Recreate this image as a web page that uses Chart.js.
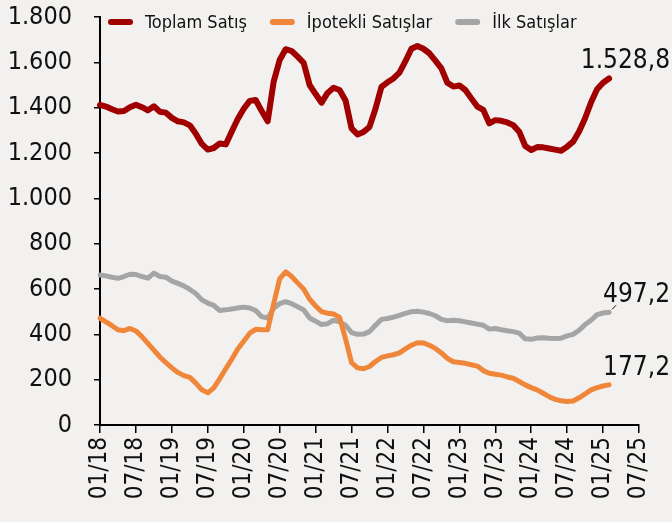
<!DOCTYPE html>
<html>
<head>
<meta charset="utf-8">
<script src="https://cdn.jsdelivr.net/npm/chart.js@4.4.1/dist/chart.umd.min.js"></script>
<style>
  html, body { margin: 0; padding: 0; background: #f2f1ef; }
  #wrap { width: 672px; height: 522px; }
</style>
</head>
<body>
<div id="wrap"><canvas id="c" width="672" height="522"></canvas></div>
<script>
// Month categories (axis runs 01/18 .. 07/25)
const categories = [
  '01/18','02/18','03/18','04/18','05/18','06/18','07/18','08/18','09/18','10/18','11/18','12/18',
  '01/19','02/19','03/19','04/19','05/19','06/19','07/19','08/19','09/19','10/19','11/19','12/19',
  '01/20','02/20','03/20','04/20','05/20','06/20','07/20','08/20','09/20','10/20','11/20','12/20',
  '01/21','02/21','03/21','04/21','05/21','06/21','07/21','08/21','09/21','10/21','11/21','12/21',
  '01/22','02/22','03/22','04/22','05/22','06/22','07/22','08/22','09/22','10/22','11/22','12/22',
  '01/23','02/23','03/23','04/23','05/23','06/23','07/23','08/23','09/23','10/23','11/23','12/23',
  '01/24','02/24','03/24','04/24','05/24','06/24','07/24','08/24','09/24','10/24','11/24','12/24',
  '01/25','02/25','03/25','04/25','05/25','06/25','07/25'
];

const seriesNames = ['Toplam Satış', 'İpotekli Satışlar', 'İlk Satışlar'];

const toplamSatis = [
  1412,1405,1393,1383,1385,1402,1413,1402,1388,1406,1382,1378,
  1355,1340,1335,1322,1285,1240,1215,1222,1242,1238,1295,1350,
  1395,1430,1434,1385,1340,1515,1610,1658,1650,1625,1598,1500,
  1460,1422,1465,1488,1478,1432,1309,1282,1293,1315,1395,1492,
  1512,1529,1555,1605,1660,1672,1660,1640,1607,1573,1510,1493,
  1498,1478,1441,1405,1390,1331,1345,1342,1335,1323,1294,1231,
  1213,1226,1225,1220,1215,1210,1228,1250,1295,1353,1424,1481,
  1510,1528.8
];

const ipotekliSatislar = [
  471,455,438,420,416,426,415,390,360,330,300,275,
  252,232,218,210,185,155,142,164,205,248,290,335,
  370,405,422,420,420,535,645,676,655,627,600,555,
  525,500,493,490,475,380,275,252,248,258,280,298,
  305,310,318,336,352,363,362,352,338,318,294,279,
  276,272,266,260,240,228,224,220,212,206,192,177,
  165,155,140,125,113,107,104,106,120,137,155,165,
  172,177.2
];

const ilkSatislar = [
  662,658,652,647,655,665,664,655,648,670,655,652,
  635,625,614,598,580,552,538,528,505,508,512,516,
  520,516,505,478,472,515,535,544,535,522,508,472,
  458,443,447,462,455,440,408,400,401,412,440,466,
  470,476,484,492,500,502,498,492,482,466,460,462,
  460,455,450,445,440,423,426,420,416,412,405,380,
  378,384,385,383,382,383,393,400,418,443,462,487,
  494,497.2
];

const yMin = 0, yMax = 1800, yStep = 200;
const seriesColors = ['#a00000', '#f0863a', '#a5a5a5'];
const seriesWidths = [6, 5, 5];

const FONT = '"DejaVu Sans Condensed", "DejaVu Sans", sans-serif';

function formatTR(v, decimals) {
  const neg = v < 0;
  v = Math.abs(v);
  let s = decimals ? v.toFixed(decimals) : String(Math.round(v));
  let [ip, dp] = s.split('.');
  ip = ip.replace(/\B(?=(\d{3})+(?!\d))/g, '.');
  return (neg ? '-' : '') + ip + (dp ? ',' + dp : '');
}

// Legend drawn inside the chart area (top-left)
const legendPlugin = {
  id: 'insideLegend',
  afterDraw(chart) {
    const ctx = chart.ctx;
    const area = chart.chartArea;
    ctx.save();
    ctx.font = '18px ' + FONT;
    ctx.textBaseline = 'alphabetic';
    ctx.textAlign = 'left';
    let x = area.left + 11;
    const yLine = area.top + 5;
    chart.data.datasets.forEach((ds) => {
      ctx.strokeStyle = ds.borderColor;
      ctx.lineWidth = 6;
      ctx.lineCap = 'round';
      ctx.beginPath();
      ctx.moveTo(x, yLine);
      ctx.lineTo(x + 19, yLine);
      ctx.stroke();
      ctx.fillStyle = '#111';
      ctx.fillText(ds.label, x + 34, yLine + 6);
      x += 34 + ctx.measureText(ds.label).width + 26;
    });
    ctx.restore();
  }
};

// Value labels at the last point of each series
const endLabelPlugin = {
  id: 'endLabels',
  afterDatasetsDraw(chart) {
    const ctx = chart.ctx;
    ctx.save();
    ctx.font = '26px ' + FONT;
    ctx.fillStyle = '#111';
    ctx.textAlign = 'right';
    ctx.textBaseline = 'alphabetic';
    chart.data.datasets.forEach((ds, i) => {
      const meta = chart.getDatasetMeta(i);
      const last = ds.data.length - 1;
      const pt = meta.data[last];
      if (!pt) return;
      ctx.fillText(formatTR(ds.data[last], 1), pt.x + 61, pt.y - 10);
      if (i === 2) {
        ctx.strokeStyle = '#111';
        ctx.lineWidth = 1;
        ctx.beginPath();
        ctx.moveTo(pt.x + 3, pt.y - 3);
        ctx.lineTo(pt.x + 7, pt.y - 7);
        ctx.stroke();
      }
    });
    ctx.restore();
  }
};

const bgPlugin = {
  id: 'bg',
  beforeDraw(chart) {
    const ctx = chart.ctx;
    ctx.save();
    ctx.fillStyle = '#f2f1ef';
    ctx.fillRect(0, 0, chart.width, chart.height);
    ctx.restore();
  }
};

const seriesData = [toplamSatis, ipotekliSatislar, ilkSatislar];

new Chart(document.getElementById('c'), {
  type: 'line',
  data: {
    labels: categories,
    datasets: seriesData.map((d, i) => ({
      label: seriesNames[i],
      data: d,
      borderColor: seriesColors[i],
      backgroundColor: seriesColors[i],
      borderWidth: seriesWidths[i],
      pointRadius: 0,
      pointHoverRadius: 0,
      tension: 0,
      borderJoinStyle: 'round',
      borderCapStyle: 'round',
      fill: false
    }))
  },
  options: {
    responsive: false,
    animation: false,
    devicePixelRatio: 1,
    layout: { padding: { top: 17, right: 33, bottom: 0, left: 0 } },
    plugins: {
      legend: { display: false },
      tooltip: { enabled: false }
    },
    scales: {
      x: {
        type: 'category',
        offset: false,
        grid: {
          drawOnChartArea: false,
          drawTicks: true,
          tickLength: 8,
          lineWidth: 1.5,
          color: (c) => (c.index % 6 === 0 ? '#000' : 'rgba(0,0,0,0)')
        },
        border: { display: true, color: '#000', width: 2 },
        ticks: {
          autoSkip: false,
          maxRotation: 90,
          minRotation: 90,
          padding: 4,
          color: '#111',
          font: { family: FONT, size: 24 },
          callback: function (v, i) { return i % 6 === 0 ? categories[i] : ''; }
        },
        afterFit: (s) => { s.height = 97; s.paddingLeft = 0; s.paddingRight = 0; s.paddingTop = 0; s.paddingBottom = 0; }
      },
      y: {
        min: yMin,
        max: yMax,
        grid: {
          drawOnChartArea: false,
          drawTicks: true,
          tickLength: 6,
          lineWidth: 1.5,
          color: '#000'
        },
        border: { display: true, color: '#000', width: 2 },
        ticks: {
          stepSize: yStep,
          padding: 22,
          color: '#111',
          font: { family: FONT, size: 25 },
          callback: (v) => formatTR(v, 0)
        },
        afterFit: (s) => { s.width = 100; s.paddingTop = 0; s.paddingBottom = 0; s.paddingLeft = 0; s.paddingRight = 0; }
      }
    }
  },
  plugins: [bgPlugin, endLabelPlugin, legendPlugin]
});
</script>
</body>
</html>
